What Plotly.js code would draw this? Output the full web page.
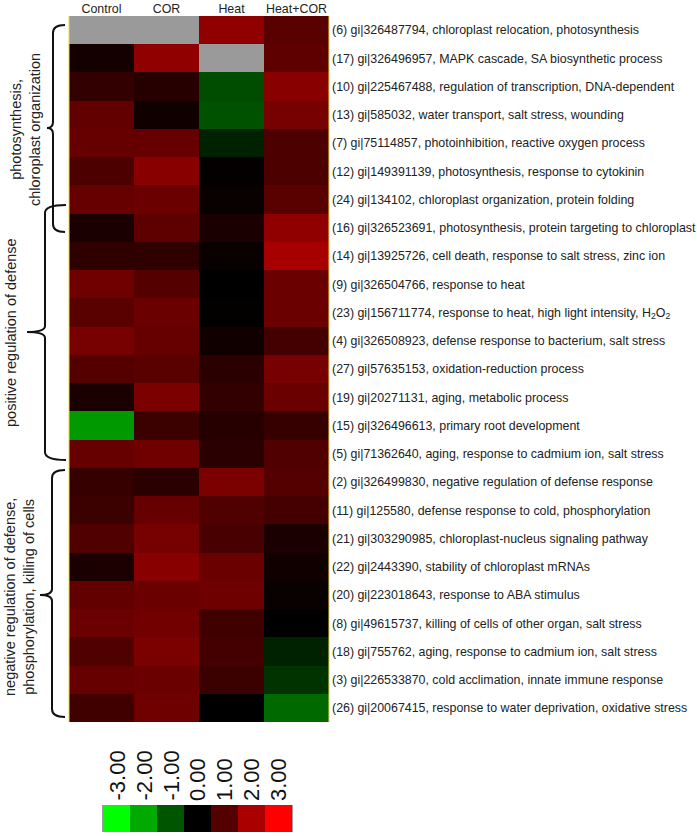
<!DOCTYPE html>
<html>
<head>
<meta charset="utf-8">
<script src="https://cdn.plot.ly/plotly-3.0.1.min.js"></script>
<style>html,body{margin:0;padding:0;background:#fff;}#chart{width:697px;height:836px;}</style>
</head>
<body>
<div id="chart"></div>
<script>
// ---------------- data ----------------
var conditions = ["Control", "COR", "Heat", "Heat+COR"];

var rowLabels = [
  "(6) gi|326487794, chloroplast relocation, photosynthesis",
  "(17) gi|326496957, MAPK cascade, SA biosynthetic process",
  "(10) gi|225467488, regulation of transcription, DNA-dependent",
  "(13) gi|585032, water transport, salt stress, wounding",
  "(7) gi|75114857, photoinhibition, reactive oxygen process",
  "(12) gi|149391139, photosynthesis, response to cytokinin",
  "(24) gi|134102, chloroplast organization, protein folding",
  "(16) gi|326523691, photosynthesis, protein targeting to chloroplast",
  "(14) gi|13925726, cell death, response to salt stress, zinc ion",
  "(9) gi|326504766, response to heat",
  "(23) gi|156711774, response to heat, high light intensity, H<sub>2</sub>O<sub>2</sub>",
  "(4) gi|326508923, defense response to bacterium, salt stress",
  "(27) gi|57635153, oxidation-reduction process",
  "(19) gi|20271131, aging, metabolic process",
  "(15) gi|326496613, primary root development",
  "(5) gi|71362640, aging, response to cadmium ion, salt stress",
  "(2) gi|326499830, negative regulation of defense response",
  "(11) gi|125580, defense response to cold, phosphorylation",
  "(21) gi|303290985, chloroplast-nucleus signaling pathway",
  "(22) gi|2443390, stability of chloroplast mRNAs",
  "(20) gi|223018643, response to ABA stimulus",
  "(8) gi|49615737, killing of cells of other organ, salt stress",
  "(18) gi|755762, aging, response to cadmium ion, salt stress",
  "(3) gi|226533870, cold acclimation, innate immune response",
  "(26) gi|20067415, response to water deprivation, oxidative stress"
];

// log2 fold-change values per condition (null = no data, drawn grey)
var controlVals = [null, 0.25, 0.6, 1.15, 1.2, 0.9, 1.2, 0.3, 0.55, 1.3, 1.05, 1.4, 1.0, 0.3, -1.8, 1.2, 0.65, 0.7, 0.95, 0.3, 1.15, 1.25, 0.95, 1.2, 0.75];
var corVals     = [null, 1.7, 0.45, 0.2, 1.2, 1.6, 1.25, 1.1, 0.55, 1.0, 1.25, 1.2, 1.05, 1.45, 0.7, 1.3, 0.5, 1.2, 1.4, 1.6, 1.25, 1.35, 1.45, 1.25, 1.3];
var heatVals    = [1.7, null, -0.9, -0.95, -0.4, 0.05, 0.1, 0.3, 0.1, 0.0, 0.03, 0.2, 0.5, 0.6, 0.45, 0.5, 1.45, 0.95, 0.85, 1.25, 1.3, 0.75, 0.8, 0.7, 0.0];
var heatCorVals = [1.05, 1.1, 1.6, 1.4, 0.9, 0.9, 1.05, 1.7, 1.95, 1.25, 1.25, 0.8, 1.4, 1.25, 0.65, 0.95, 1.0, 0.8, 0.3, 0.2, 0.1, 0.0, -0.4, -0.6, -1.25];

var legendValues = [-3, -2, -1, 0, 1, 2, 3];

var groups = [
  {label: "photosynthesis,<br>chloroplast organization"},
  {label: "positive regulation of defense"},
  {label: "negative regulation of defense,<br>phosphorylation, killing of cells"}
];

// ---------------- build ----------------
var W = 697, H = 836;
function px(x) { return x / W; }
function py(y) { return 1 - y / H; }

var z = rowLabels.map(function (_, i) {
  return [controlVals[i], corVals[i], heatVals[i], heatCorVals[i]];
});

var colorscale = [
  [0, "#00FF00"], [1/6, "#00AA00"], [2/6, "#005500"], [0.5, "#000000"],
  [4/6, "#550000"], [5/6, "#AA0000"], [1, "#FF0000"]
];

var font = "Liberation Sans, Arial, sans-serif";

var main = {
  type: "heatmap",
  x: conditions,
  y: rowLabels,
  z: z,
  zmin: -3, zmax: 3,
  colorscale: colorscale,
  showscale: false,
  hoverongaps: false,
  xgap: 0, ygap: 0,
  xaxis: "x", yaxis: "y"
};

var legendTrace = {
  type: "heatmap",
  x: legendValues,
  y: ["scale"],
  z: [legendValues],
  zmin: -3, zmax: 3,
  colorscale: colorscale,
  showscale: false,
  xaxis: "x2", yaxis: "y2"
};

// bracket path helper (pixel coords -> paper)
function brace(v, top, bot, cusp, d, tip) {
  var r = 8;
  var P = function (x, y) { return px(x).toFixed(5) + "," + py(y).toFixed(5); };
  return "M" + P(tip, top) +
    " Q" + P(v, top) + " " + P(v, top + r) +
    " L" + P(v, cusp - 6) +
    " Q" + P(v, cusp) + " " + P(v - d, cusp) +
    " Q" + P(v, cusp) + " " + P(v, cusp + 6) +
    " L" + P(v, bot - r) +
    " Q" + P(v, bot) + " " + P(tip, bot);
}

var bracePos = [
  {v: 53, top: 25, bot: 232, cusp: 128, d: 6, tip: 65, lx: 26, ly: 130},
  {v: 45, top: 205, bot: 460, cusp: 332, d: 18, tip: 66, lx: 11, ly: 333},
  {v: 52, top: 470, bot: 717, cusp: 595, d: 12, tip: 65, lx: 19, ly: 597}
];

var shapes = bracePos.map(function (b) {
  return {type: "path", xref: "paper", yref: "paper",
          path: brace(b.v, b.top, b.bot, b.cusp, b.d, b.tip),
          line: {color: "#111", width: 2}};
});
// thin yellow edges of the heat map
shapes.push({type: "line", xref: "paper", yref: "paper", x0: px(69), x1: px(69), y0: py(16), y1: py(722), line: {color: "#E8D84A", width: 1}});
shapes.push({type: "line", xref: "paper", yref: "paper", x0: px(329), x1: px(329), y0: py(16), y1: py(722), line: {color: "#E8D84A", width: 1}});

var annotations = groups.map(function (g, i) {
  var b = bracePos[i];
  return {xref: "paper", yref: "paper", x: px(b.lx), y: py(b.ly),
          text: g.label, showarrow: false, textangle: -90,
          xanchor: "center", yanchor: "middle",
          font: {family: font, size: 14.5, color: "#222"}};
});
legendValues.forEach(function (v) {
  annotations.push({xref: "x2", yref: "paper", x: v, y: py(803),
    text: v.toFixed(2), showarrow: false, textangle: -90,
    xanchor: "center", yanchor: "bottom",
    font: {family: font, size: 22, color: "#111"}});
});

var layout = {
  width: W, height: H,
  margin: {l: 0, r: 0, t: 0, b: 0},
  paper_bgcolor: "#ffffff",
  plot_bgcolor: "#9a9a9a",
  showlegend: false,
  xaxis: {domain: [px(69), px(329)], side: "top", showgrid: false, zeroline: false,
          showline: false, ticks: "", tickfont: {family: font, size: 12.4, color: "#222"},
          fixedrange: true},
  yaxis: {domain: [py(722), py(16)], side: "right", autorange: "reversed", showgrid: false,
          zeroline: false, showline: false, ticks: "", ticklabelstandoff: 2,
          tickfont: {family: font, size: 12.4, color: "#222"}, fixedrange: true},
  xaxis2: {domain: [px(102), px(293)], anchor: "y2", showticklabels: false, ticks: "",
           showgrid: false, zeroline: false, showline: false, fixedrange: true},
  yaxis2: {domain: [py(832), py(805)], anchor: "x2", showticklabels: false, ticks: "",
           showgrid: false, zeroline: false, showline: false, fixedrange: true},
  shapes: shapes,
  annotations: annotations
};

Plotly.newPlot("chart", [main, legendTrace], layout, {displayModeBar: false, staticPlot: true});
</script>
</body>
</html>
